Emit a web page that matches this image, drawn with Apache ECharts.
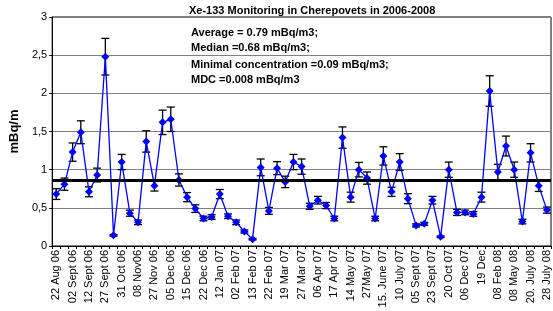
<!DOCTYPE html>
<html>
<head>
<meta charset="utf-8">
<script src="https://cdn.jsdelivr.net/npm/echarts@6/dist/echarts.min.js"></script>
<style>
  html, body { margin: 0; padding: 0; background: #fff; }
  #main { width: 553px; height: 311px; }
</style>
</head>
<body>
<div id="main"></div>
<script>
// sampling dates (only every second one is printed on the axis)
var dates = [
  '22 Aug 06', '', '02 Sept 06', '', '12 Sept 06', '', '27 Sept 06', '', '31 Oct 06', '',
  '08 Nov06', '', '27 Nov 06', '', '05 Dec 06', '', '15 Dec 06', '', '22 Dec 06', '',
  '12 Jan 07', '', '02 Feb 07', '', '13 Feb 07', '', '22 Feb 07', '', '19 Mar 07', '',
  '27 Mar 07', '', '06 Apr 07', '', '17 Apr 07', '', '14 May 07', '', '27May 07', '',
  '15. June 07', '', '10 July 07', '', '05 Sept 07', '', '23 Sept 07', '', '20 Oct 07', '',
  '06 Dec 07', '', '19 Dec', '', '08 Feb 08', '', '08 May 08', '', '20. July 08', '',
  '28 July 08'
];
// Xe-133 concentration, mBq/m3
var xe133 = [
  0.68, 0.81, 1.23, 1.49, 0.71, 0.93, 2.48, 0.14, 1.10, 0.43,
  0.31, 1.37, 0.79, 1.62, 1.66, 0.865, 0.64, 0.49, 0.36, 0.38,
  0.68, 0.39, 0.31, 0.19, 0.09, 1.03, 0.46, 1.02, 0.84, 1.10,
  1.04, 0.52, 0.60, 0.53, 0.36, 1.42, 0.64, 1.00, 0.89, 0.36,
  1.18, 0.71, 1.10, 0.62, 0.27, 0.29, 0.60, 0.12, 1.00, 0.44,
  0.44, 0.42, 0.64, 2.03, 0.97, 1.31, 1.00, 0.32, 1.22, 0.79,
  0.47
];
// measurement uncertainty (+/-)
var errs = [
  0.07, 0.08, 0.12, 0.15, 0.065, 0.09, 0.24, 0.01, 0.10, 0.04,
  0.03, 0.14, 0.07, 0.16, 0.16, 0.08, 0.06, 0.05, 0.03, 0.03,
  0.06, 0.03, 0.03, 0.02, 0.01, 0.11, 0.045, 0.085, 0.075, 0.10,
  0.10, 0.04, 0.05, 0.04, 0.03, 0.14, 0.065, 0.095, 0.08, 0.03,
  0.12, 0.06, 0.11, 0.065, 0.02, 0.02, 0.05, 0.01, 0.10, 0.04,
  0.03, 0.03, 0.065, 0.20, 0.10, 0.13, 0.10, 0.03, 0.12, 0.075,
  0.04
];
var refLevel = 0.86;
var notes = [
  'Average = 0.79 mBq/m3;',
  'Median =0.68 mBq/m3;',
  'Minimal concentration =0.09 mBq/m3;',
  'MDC =0.008 mBq/m3'
];

var errData = xe133.map(function (v, i) { return [i, v - errs[i], v + errs[i]]; });

var chart = echarts.init(document.getElementById('main'));
var font = 'Liberation Sans, Arial, sans-serif';

chart.setOption({
  animation: false,
  title: {
    text: 'Xe-133 Monitoring in Cherepovets in 2006-2008',
    left: 184, top: 0,
    textStyle: { fontFamily: font, fontSize: 11, fontWeight: 'bold', color: '#000' }
  },
  grid: {
    left: 36, right: 2, top: 17, bottom: 65,
    show: true, borderColor: '#000', borderWidth: 1
  },
  xAxis: {
    type: 'category',
    data: dates,
    boundaryGap: true,
    axisLine: { lineStyle: { color: '#000', width: 1 } },
    axisTick: { show: true, interval: 0, length: 3, lineStyle: { color: '#000' } },
    axisLabel: {
      interval: 0, rotate: 90, margin: 4,
      fontFamily: font, fontSize: 11, color: '#000'
    },
    splitLine: { show: false }
  },
  yAxis: {
    type: 'value',
    min: 0, max: 3, interval: 0.5,
    name: 'mBq/m',
    nameLocation: 'middle',
    nameGap: 20,
    nameTextStyle: { fontFamily: font, fontSize: 13, fontWeight: 'bold', color: '#000' },
    axisLine: { show: true, lineStyle: { color: '#000' } },
    axisTick: { show: true, length: 3, lineStyle: { color: '#000' } },
    axisLabel: {
      margin: 5, fontFamily: font, fontSize: 11, color: '#000',
      formatter: function (v) { return String(v).replace('.', ','); }
    },
    splitLine: { lineStyle: { color: '#808080', width: 1 } }
  },
  graphic: notes.map(function (t, i) {
    var ys = [27, 42, 59, 74];
    return {
      type: 'text', left: 191, top: ys[i], z: 10,
      style: { text: t, font: 'bold 11px ' + font, fill: '#000' }
    };
  }),
  series: [
    {
      type: 'custom',
      z: 2,
      data: errData,
      renderItem: function (params, api) {
        var x = api.coord([api.value(0), 0])[0];
        var lo = api.coord([api.value(0), api.value(1)])[1];
        var hi = api.coord([api.value(0), api.value(2)])[1];
        var w = 4;
        var st = { stroke: '#000', lineWidth: 1.3 };
        return {
          type: 'group',
          children: [
            { type: 'line', shape: { x1: x, y1: lo, x2: x, y2: hi }, style: st },
            { type: 'line', shape: { x1: x - w, y1: hi, x2: x + w, y2: hi }, style: st },
            { type: 'line', shape: { x1: x - w, y1: lo, x2: x + w, y2: lo }, style: st }
          ]
        };
      }
    },
    {
      type: 'line',
      z: 3,
      data: xe133,
      symbol: 'diamond',
      symbolSize: 8,
      itemStyle: { color: '#0000ff' },
      lineStyle: { color: '#0000ff', width: 1.3 },
      markLine: {
        silent: true,
        symbol: 'none',
        label: { show: false },
        lineStyle: { color: '#000', width: 3, type: 'solid' },
        data: [{ yAxis: refLevel }]
      }
    }
  ]
});
</script>
</body>
</html>
